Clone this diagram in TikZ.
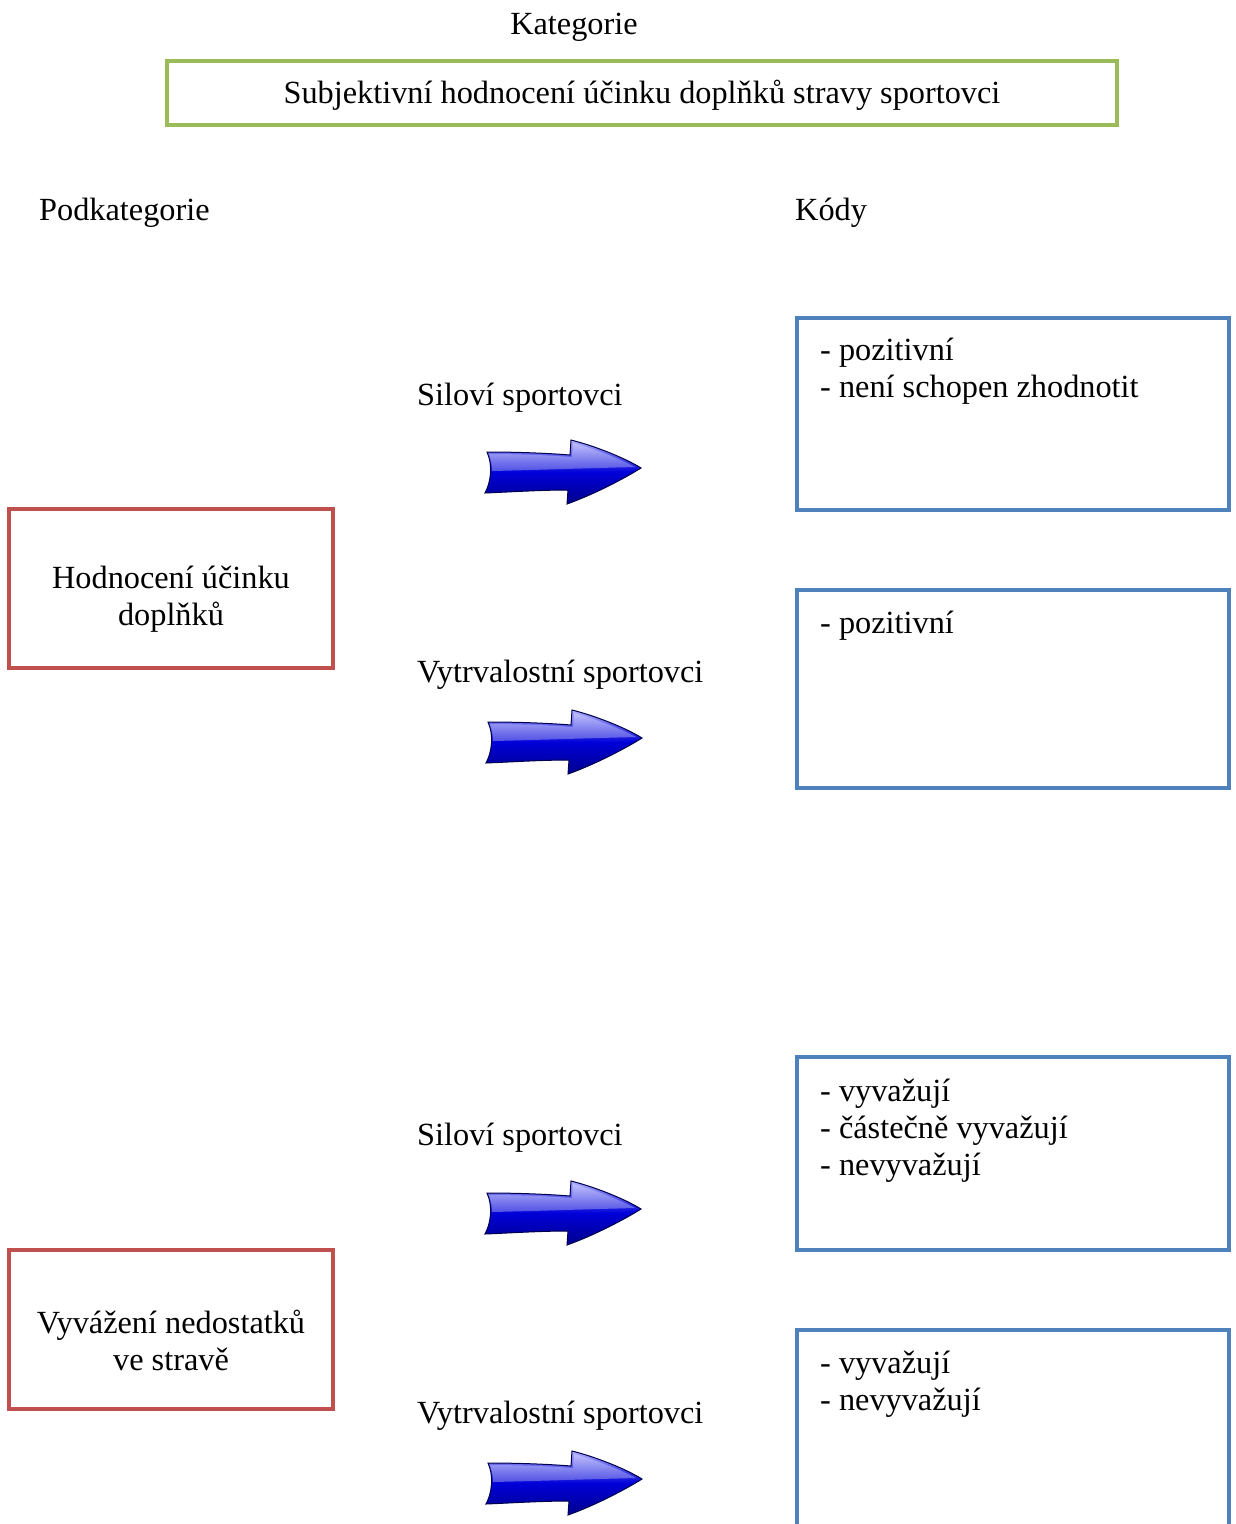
\documentclass[tikz,border=0pt]{standalone}
\usepackage{fontspec}
\setmainfont{Liberation Serif}
\definecolor{catgreen}{HTML}{9BBB59}
\definecolor{subred}{HTML}{C0504D}
\definecolor{codeblue}{HTML}{4F81BD}
\begin{document}
\begin{tikzpicture}[x=1pt,y=-1pt,
  every node/.style={font=\fontsize{32.3}{37}\selectfont, inner sep=0pt},
  catbox/.style={draw=catgreen, line width=3.5pt, minimum width=950pt, minimum height=64pt},
  subbox/.style={draw=subred, line width=3.5pt, minimum width=324pt, minimum height=159pt},
  codebox/.style={draw=codeblue, line width=3.5pt, minimum width=432pt},
  codetext/.style={anchor=north west, align=left},
  grouplabel/.style={anchor=base west},
  glossyarrow/.pic={
    \path[draw=black!70!blue, line width=1pt, top color=blue!30!white, bottom color=blue!55!black, middle color=blue!85!black]
      (2,12) .. controls (30,12) and (60,13) .. (85,15) -- (86,0)
      .. controls (110,6) and (140,18) .. (156,28)
      .. controls (140,38) and (110,54) .. (82,64) -- (83,50)
      .. controls (55,50) and (25,52) .. (0,53)
      .. controls (6,42) and (8,25) .. (2,12) -- cycle;
    \path[fill=white, fill opacity=0.3]
      (4,14) .. controls (30,14) and (60,15) .. (87,17) -- (88,3)
      .. controls (110,9) and (135,19) .. (150,27)
      .. controls (110,28) and (50,30) .. (7,31) .. controls (7,25) and (6,20) .. (4,14) -- cycle;
  }
]
\useasboundingbox (0,0) rectangle (1235,1524);
\fill[white] (0,0) rectangle (1235,1524);

\node[anchor=base] (kat) at (574,34) {Kategorie};
\node[catbox] (cat) at (642,93) {};
\node (cattext) at (642,95) {Subjektivní hodnocení účinku doplňků stravy sportovci};
\node[anchor=base west] (podkat) at (39,220) {Podkategorie};
\node[anchor=base west] (kody) at (795,220) {Kódy};

\node[subbox] (sub1) at (171,588.5) {};
\node[align=center] (sub1text) at (171,599.5) {Hodnocení účinku\\doplňků};
\node[subbox] (sub2) at (171,1329.5) {};
\node[align=center] (sub2text) at (171,1340.5) {Vyvážení nedostatků\\ve stravě};

\node[grouplabel] (g1) at (417,405) {Siloví sportovci};
\node[grouplabel] (g2) at (417,682) {Vytrvalostní sportovci};
\node[grouplabel] (g3) at (417,1145) {Siloví sportovci};
\node[grouplabel] (g4) at (417,1423) {Vytrvalostní sportovci};

\coordinate (a1) at (485,440);
\coordinate (a2) at (486,710);
\coordinate (a3) at (485,1181);
\coordinate (a4) at (486,1451);
\pic at (a1) {glossyarrow};
\pic at (a2) {glossyarrow};
\pic at (a3) {glossyarrow};
\pic at (a4) {glossyarrow};

\node[codebox, minimum height=192pt] (c1) at (1013,414) {};
\node[codebox, minimum height=198pt] (c2) at (1013,689) {};
\node[codebox, minimum height=193pt] (c3) at (1013,1153.5) {};
\node[codebox, minimum height=200pt] (c4) at (1013,1430) {};

\node[codetext] (t1) at (820,338) {- pozitivní\\- není schopen zhodnotit};
\node[codetext] (t2) at (820,611) {- pozitivní};
\node[codetext] (t3) at (820,1079) {- vyvažují\\- částečně vyvažují\\- nevyvažují};
\node[codetext] (t4) at (820,1351) {- vyvažují\\- nevyvažují};
\end{tikzpicture}
\end{document}
